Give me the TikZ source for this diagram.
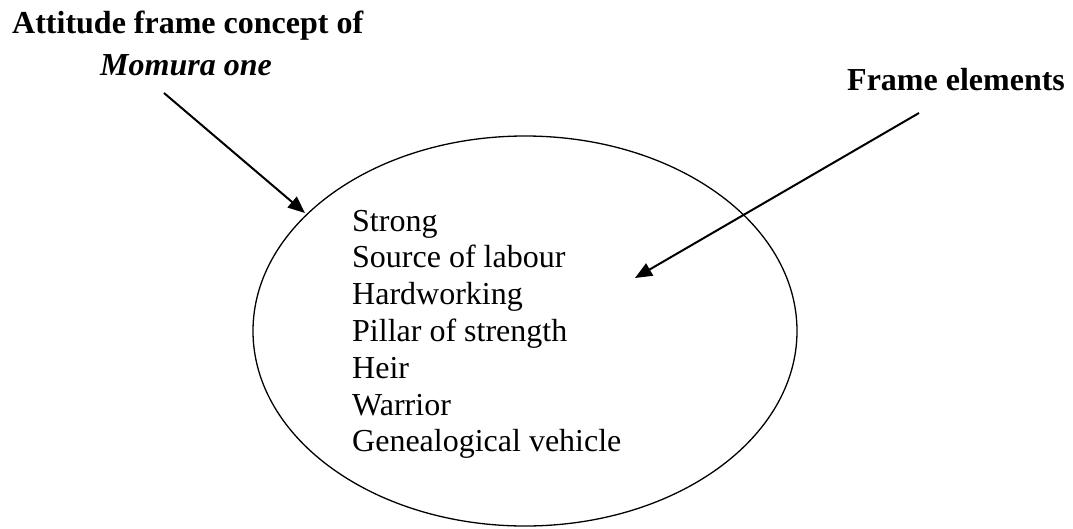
\documentclass[tikz,border=0pt]{standalone}
\usepackage{fontspec}
\setmainfont{Liberation Serif}
\usetikzlibrary{arrows.meta,shapes.geometric}
\begin{document}
\begin{tikzpicture}[x=1pt,y=-1pt,
  label/.style={anchor=base west,inner sep=0pt,font=\fontsize{32}{36.8}\selectfont},
  heading/.style={label,font=\fontsize{32}{36.8}\selectfont\bfseries},
  pointer/.style={line width=2pt,-{Triangle[length=17pt,width=14pt]}}]
\useasboundingbox (0,0) rectangle (1073,528);
% frame ellipse
\node[ellipse,draw,line width=1.3pt,minimum width=544pt,minimum height=390pt,inner sep=0pt] (frame) at (525,331) {};
% headings
\node[heading] (concept) at (12,33) {Attitude frame concept of};
\node[heading] (word) at (100,75) {\itshape Momura one};
\node[heading] (elements) at (847,90) {Frame elements};
% frame elements
\foreach \txt [count=\i] in {Strong,Source of labour,Hardworking,Pillar of strength,Heir,Warrior,Genealogical vehicle}
  \node[label] (item\i) at (352,{231+36.8*(\i-1)}) {\txt};
% pointers
\coordinate (p1) at (164,93);
\coordinate (t1) at (305,213);
\coordinate (p2) at (919,113);
\coordinate (t2) at (635,278);
\draw[pointer] (p1) -- (t1);
\draw[pointer] (p2) -- (t2);
\end{tikzpicture}
\end{document}
